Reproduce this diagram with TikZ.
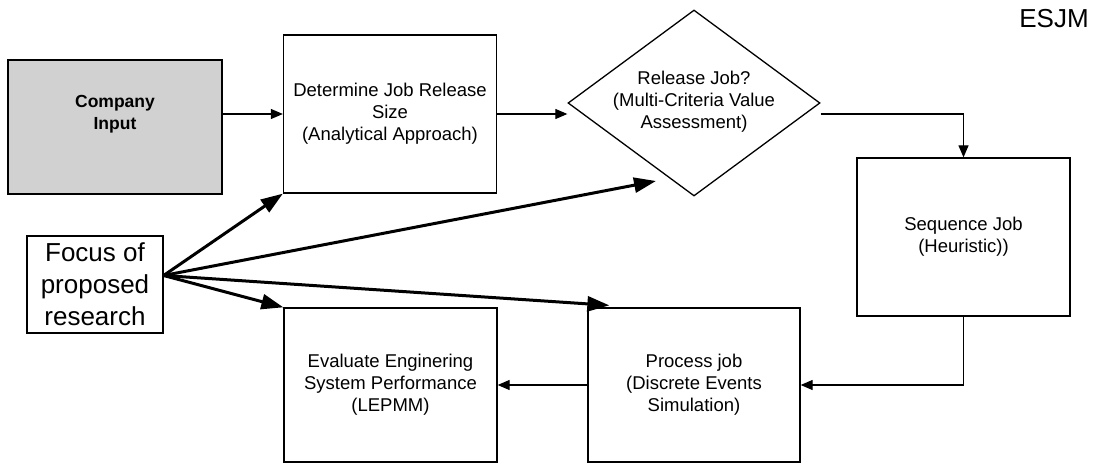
\documentclass[tikz,border=0pt]{standalone}
\usepackage{fontspec}
\setmainfont{Liberation Sans}
\usetikzlibrary{arrows.meta,shapes.geometric}
\tikzset{
  box/.style={draw=black, line width=1.3pt, inner sep=0pt},
  lbl/.style={align=center, font=\fontsize{18.5}{22}\selectfont},
  thinarrow/.style={line width=1.2pt, -{Triangle[length=12pt,width=10pt]}},
  thickarrow/.style={line width=3pt, -{Triangle[length=22pt,width=15pt]}},
}
\begin{document}
\begin{tikzpicture}[x=1pt,y=-1pt]
\useasboundingbox (0,0) rectangle (1099,465);
% boxes
\node[box, fill=black!18, minimum width=214, minimum height=134] (comp) at (115,127) {};
\node[lbl, font=\fontsize{17.5}{22}\selectfont\bfseries] (comptext) at (115,114) {Company\\Input};
\node[box, minimum width=213, minimum height=158] (det) at (390,114) {};
\node[lbl] (dettext) at (det.center) {Determine Job Release\\Size\\(Analytical Approach)};
\node[box, diamond, minimum width=252, minimum height=186] (dia) at (694,103) {};
\node[lbl] (diatext) at (694,102) {Release Job?\\(Multi-Criteria Value\\Assessment)};
\node[box, minimum width=213, minimum height=158] (seq) at (963.5,237) {};
\node[lbl] (seqtext) at (seq.center) {Sequence Job\\(Heuristic))};
\node[box, minimum width=212, minimum height=154] (proc) at (694,385) {};
\node[lbl] (proctext) at (proc.center) {Process job\\(Discrete Events\\Simulation)};
\node[box, minimum width=213, minimum height=154] (eval) at (390.5,385) {};
\node[lbl] (evaltext) at (eval.center) {Evaluate Enginering\\System Performance\\(LEPMM)};
\node[box, line width=1.2pt, minimum width=136, minimum height=97] (focus) at (95,284.5) {};
\node[align=center, font=\fontsize{26}{32}\selectfont] (focustext) at (95,284) {Focus of\\proposed\\research};
\node[font=\fontsize{26}{30}\selectfont] (esjm) at (1054,19) {ESJM};
% thin connectors
\draw[thinarrow] (comp.east |- det.west) -- (det.west);
\draw[thinarrow] (det.east) -- (det.east -| dia.west);
\draw[thinarrow] (dia.east |- det.east) -| (seq.north);
\draw[thinarrow] (seq.south) |- (proc.east);
\draw[thinarrow] (proc.west) -- (eval.east);
% thick connectors
\coordinate (fo) at ([yshift=9pt]focus.east);
\coordinate (dtip) at (656,181);
\coordinate (ptip) at ([xshift=22pt,yshift=2pt]proc.north west);
\draw[thickarrow] (fo) -- (det.south west);
\draw[thickarrow] (fo) -- (dtip);
\draw[thickarrow] (fo) -- (ptip);
\draw[thickarrow] (fo) -- (eval.north west);
\end{tikzpicture}
\end{document}
